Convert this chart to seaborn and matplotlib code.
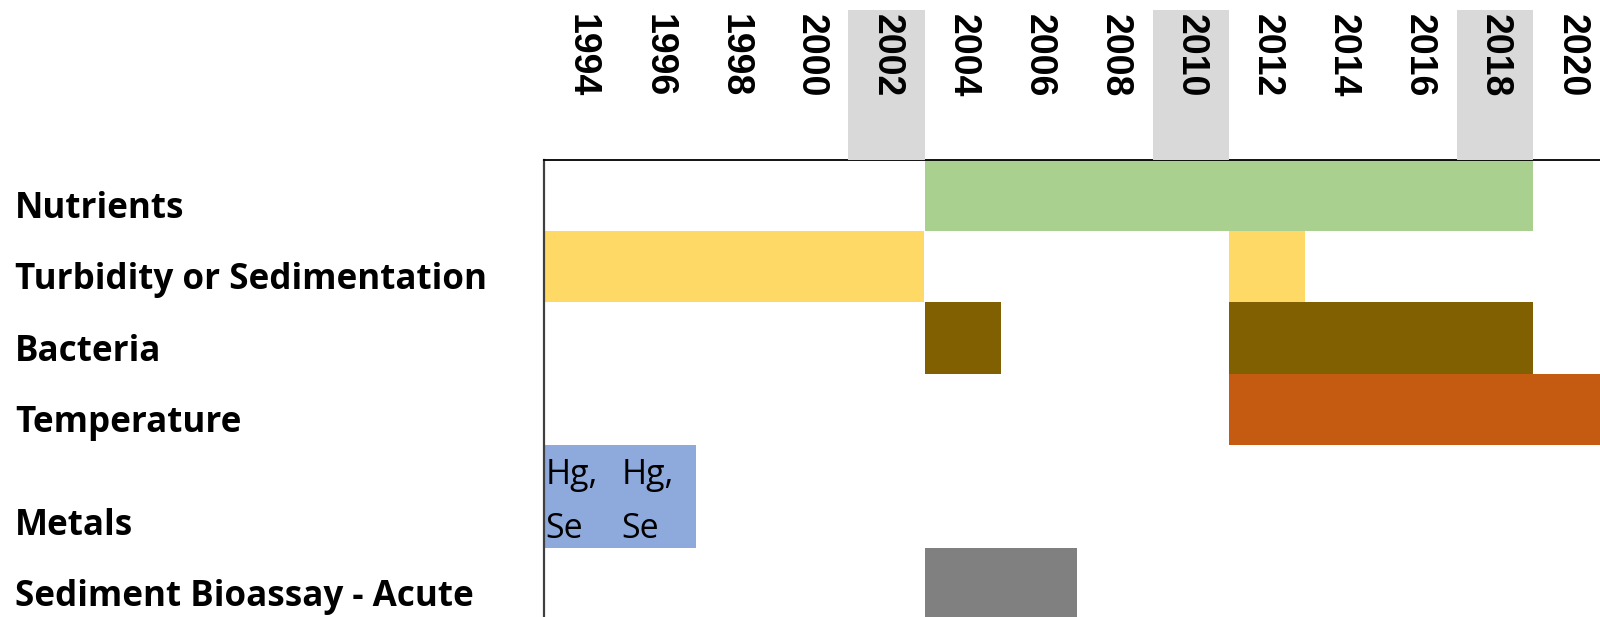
import matplotlib
matplotlib.use("Agg")
import matplotlib.pyplot as plt
import matplotlib.transforms as mtransforms
import seaborn as sns

# ---------------- data ----------------
categories = ["Nutrients", "Turbidity or Sedimentation", "Bacteria",
              "Temperature", "Metals", "Sediment Bioassay - Acute"]
# listed periods per category: (first year, year after last)
nutrients_periods = [(2004, 2020)]
turbidity_periods = [(1994, 2004), (2012, 2014)]
bacteria_periods = [(2004, 2006), (2012, 2020)]
temperature_periods = [(2012, 2022)]
metals_periods = [(1994, 1998)]
sediment_periods = [(2004, 2008)]
metals_note_years = [1994, 1996]
metals_notes = ["Hg,\nSe", "Hg,\nSe"]
year_ticks = list(range(1994, 2021, 2))
highlight_years = [2002, 2010, 2018]

periods = [nutrients_periods, turbidity_periods, bacteria_periods,
           temperature_periods, metals_periods, sediment_periods]
colors = ["#A9D08E", "#FFD966", "#806000", "#C55A11", "#8EA9DB", "#808080"]

# ---------------- layout (pixels) ----------------
W, H, DPI = 1600, 617, 100
ax_left_px = 544
ax_top_px = 160
col_px = 38.05
row_heights = [71, 71, 72, 71, 103, 71]
row_tops = [sum(row_heights[:i]) for i in range(len(row_heights))]
label_font = ['Open Sans', 'DejaVu Sans']

sns.set_theme(style="white")
plt.rcParams['font.family'] = ['Open Sans', 'DejaVu Sans']

fig = plt.figure(figsize=(W / DPI, H / DPI), dpi=DPI)
fig.patch.set_facecolor("white")

ax_w = (W - ax_left_px) / W
ax = fig.add_axes([ax_left_px / W, 0, ax_w, (H - ax_top_px) / H])
x0 = year_ticks[0]
x1 = x0 + (W - ax_left_px) / col_px
ax.set_xlim(x0, x1)
ax.set_ylim(H - ax_top_px, 0)
ax.set_facecolor("white")

for top, h, plist, c in zip(row_tops, row_heights, periods, colors):
    for (s, e) in plist:
        ax.barh(top, e - s, left=s, height=h, align="edge", color=c,
                linewidth=0, zorder=2)

# notes in metals cells
mi = categories.index("Metals")
for yr, note in zip(metals_note_years, metals_notes):
    for k, line in enumerate(note.split("\n")):
        ax.text(yr + 0.04, row_tops[mi] + 39 + k * 54, line,
                fontsize=24.5, family=label_font,
                color="black", va="baseline", ha="left", zorder=3)

# category labels
trans = mtransforms.blended_transform_factory(fig.transFigure, ax.transData)
label_texts = []
for top, h, lab in zip(row_tops, row_heights, categories):
    t = ax.text(15 / W, top + h - 13, lab, transform=trans, fontsize=24,
                fontweight="bold", family=label_font, color="black",
                va="baseline", ha="left", clip_on=False)
    label_texts.append(t)

# fit label size so the widest label spans ~472 px as in the reference
renderer = fig.canvas.get_renderer()
widest = max(t.get_window_extent(renderer).width for t in label_texts)
new_size = 24 * 472 / widest
for t in label_texts:
    t.set_fontsize(new_size)

ax.set_xticks([])
ax.set_yticks([])
for side in ["right", "bottom"]:
    ax.spines[side].set_visible(False)
ax.spines["top"].set_color("black")
ax.spines["top"].set_linewidth(1.3)
ax.spines["left"].set_color("#404040")
ax.spines["left"].set_linewidth(1.6)
ax.spines["top"].set_zorder(5)
ax.spines["left"].set_zorder(5)

# header axes
hax = fig.add_axes([ax_left_px / W, (H - ax_top_px) / H, ax_w, 150 / H], sharex=ax)
hax.set_xlim(x0, x1)
hax.set_ylim(0, 1)
hax.axis("off")
for hy in highlight_years:
    hax.axvspan(hy, hy + 2, color="#D9D9D9", linewidth=0, zorder=1)
for yt in year_ticks:
    hax.text(yt + 1, (ax_top_px - 14) / 150, str(yt), rotation=270,
             ha="center", va="top", fontsize=27, fontweight="bold",
             family=["Liberation Sans", "DejaVu Sans"], color="black",
             zorder=3, clip_on=False)

fig.savefig("out.png", dpi=DPI, facecolor="white")
